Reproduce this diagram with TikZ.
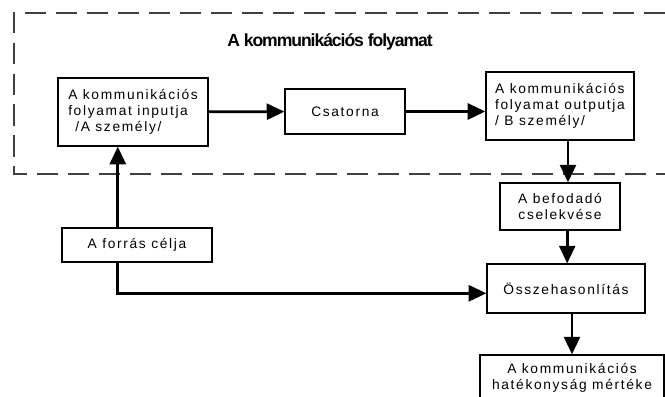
\documentclass[tikz,border=0pt]{standalone}
\usepackage{fontspec}
\setsansfont{Liberation Sans}[LetterSpace=12]
\newfontfamily\titlefont{Liberation Sans}[LetterSpace=-6]
\usetikzlibrary{arrows.meta}

\begin{document}
\begin{tikzpicture}[x=0.025cm, y=-0.025cm, font=\sffamily\fontsize{9.8}{11.4}\selectfont,
    box/.style={draw, line width=0.9pt, inner sep=1pt},
    arr/.style={line width=1.9pt, -{Triangle[length=4.4mm, width=4mm]}},
    frame/.style={draw=black!75, line width=1pt, dash pattern=on 15pt off 7pt}]
    \useasboundingbox (0,0) rectangle (665,396);

    % dashed frame
    \draw[frame] (665,13) -- (14,13) -- (14,174) -- (665,174);
    \node[font=\titlefont\bfseries\fontsize{12.5}{14}\selectfont] (title) at (330,42) {A kommunikációs folyamat};

    \node[box, minimum width=3.75cm, minimum height=1.7cm, align=left] (input) at (133,112)
        {A kommunikációs\\folyamat inputja\\\hspace{5pt}/A személy/};
    \node[box, minimum width=3cm, minimum height=1.125cm] (csat) at (345,111.5) {Csatorna};
    \node[box, minimum width=3.7cm, minimum height=1.7cm, align=left] (output) at (560,106)
        {A kommunikációs\\folyamat outputja\\/ B személy/};
    \node[box, minimum width=3cm, minimum height=1.175cm, align=center] (bef) at (560,206.5)
        {A befodadó\\cselekvése};
    \node[box, minimum width=3.75cm, minimum height=0.85cm] (forras) at (137,245) {A forrás célja};
    \node[box, minimum width=3.95cm, minimum height=1.225cm] (ossz) at (566,288.5) {Összehasonlítás};
    \node[box, minimum width=4.6cm, minimum height=1.15cm, align=center] (hat) at (572,378)
        {A kommunikációs\\hatékonyság mértéke};

    \draw[arr] (input) -- (csat);
    \draw[arr] (csat) -- (csat -| output.west);
    \draw[arr] ([xshift=0.2cm]output.south) -- ([xshift=0.2cm]output.south |- bef.north);
    \draw[arr] ([xshift=0.18cm]bef.south) -- ([xshift=0.18cm]bef.south |- ossz.north);
    \draw[arr] ([xshift=0.15cm]ossz.south) -- ([xshift=0.15cm]ossz.south |- hat.north);
    \draw[arr] ([xshift=-0.48cm]forras.north) -- ([xshift=-0.48cm]forras.north |- input.south);
    \draw[arr] ([xshift=-0.48cm]forras.south) |- ([yshift=-0.12cm]ossz.west);
\end{tikzpicture}
\end{document}
